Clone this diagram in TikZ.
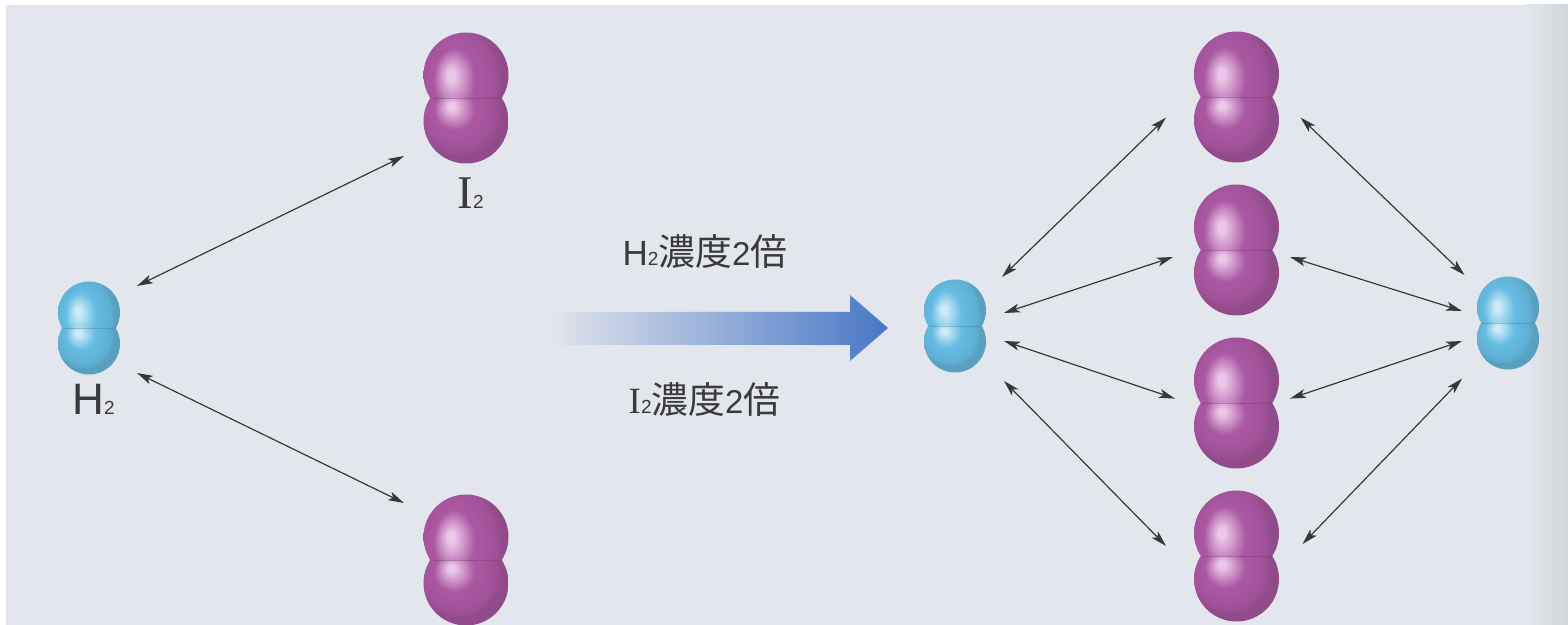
\documentclass[tikz,border=0pt]{standalone}
\usepackage{fontspec}
\setmainfont{Liberation Sans}
\newfontfamily\cjkfont{Noto Sans CJK JP}
\newfontfamily\serifI{Liberation Serif}
\usetikzlibrary{arrows.meta,calc}

\definecolor{bg}{HTML}{E3E6EC}
\definecolor{edgegray}{HTML}{D2D5D9}
\definecolor{txt}{HTML}{3A3A3A}
\definecolor{linkgray}{HTML}{383838}
\definecolor{hmid}{HTML}{66BCE2}
\definecolor{hhi}{HTML}{CDEBF8}
\definecolor{imid}{HTML}{AB58A3}
\definecolor{ihi}{HTML}{ECC8E8}
\definecolor{ablue}{HTML}{4877C6}

\pgfdeclareradialshading{hball}{\pgfpoint{-9bp}{9bp}}{color(0bp)=(hhi); color(2bp)=(hhi); color(12bp)=(hmid); color(22bp)=(hmid!93!black); color(25bp)=(hmid!85!black); color(50bp)=(hmid!85!black)}
\pgfdeclareradialshading{iball}{\pgfpoint{-9bp}{9bp}}{color(0bp)=(ihi); color(2bp)=(ihi); color(12bp)=(imid); color(22bp)=(imid!93!black); color(25bp)=(imid!85!black); color(50bp)=(imid!85!black)}

\newcommand{\subnum}[1]{{\fontsize{9.5}{9.5}\selectfont #1}}
\newcommand{\kanji}[1]{{\cjkfont\fontsize{18.4}{19}\selectfont #1}}

\tikzset{
  hmol/.style={inner sep=0, outer sep=0, minimum width=32pt, minimum height=47.5pt,
    path picture={
      \shade[shading=hball] ($(path picture bounding box.center)+(0,-15.5)$) circle[radius=31];
      \begin{scope}
        \clip (path picture bounding box.west) rectangle (path picture bounding box.south east);
        \shade[shading=hball] ($(path picture bounding box.center)+(0,15.5)$) circle[radius=31];
      \end{scope}
      \draw[hmid!70!black, line width=0.4pt, opacity=0.4] ($(path picture bounding box.center)+(-26,0)$) -- ++(52,0);
    }},
  imol/.style={inner sep=0, outer sep=0, minimum width=43.5pt, minimum height=66.5pt,
    path picture={
      \shade[shading=iball] ($(path picture bounding box.center)+(0,-23)$) circle[radius=42.5];
      \begin{scope}
        \clip (path picture bounding box.west) rectangle (path picture bounding box.south east);
        \shade[shading=iball] ($(path picture bounding box.center)+(0,23)$) circle[radius=42.5];
      \end{scope}
      \draw[imid!70!black, line width=0.4pt, opacity=0.4] ($(path picture bounding box.center)+(-35,0)$) -- ++(70,0);
    }},
  link/.style={{Stealth[length=8pt,width=4.5pt,inset=2pt]}-{Stealth[length=8pt,width=4.5pt,inset=2pt]},
    line width=0.6pt, draw=linkgray},
  lab/.style={inner sep=0, anchor=base, text=txt}
}

\begin{document}
\begin{tikzpicture}[x=0.5pt,y=-0.5pt]
\useasboundingbox (0,0) rectangle (1568,625);
\fill[white] (0,0) rectangle (1568,625);
\fill[bg] (6,5) rectangle (1568,625);
\shade[left color=bg, right color=edgegray] (1525,5) rectangle (1568,625);

\node[hmol] (h1) at (89,328) {};
\node[imol] (i1) at (466,98) {};
\node[imol] (i2) at (466,560) {};

\node[lab] (h1lab) at (93.5,415) {{\fontsize{22}{22}\selectfont H}\subnum{2}};
\node[lab] (i1lab) at (470.5,209) {{\serifI\fontsize{23.4}{24}\selectfont I}\subnum{2}};

\draw[link] ([shift={(48,-42)}]h1.center) -- ([shift={(-62,58)}]i1.center);
\draw[link] ([shift={(48,45)}]h1.center) -- ([shift={(-62,-57)}]i2.center);

\shade[left color=bg, middle color=ablue!60!bg, right color=ablue]
  (547,312) -- (850,312) -- (850,295) -- (888,328) -- (850,361) -- (850,345) -- (547,345) -- cycle;

\node[lab] (up) at (705,266) {{\fontsize{17.5}{17.5}\selectfont H}\subnum{2}\kanji{濃度}{\fontsize{16.5}{16.5}\selectfont 2}\kanji{倍}};
\node[lab] (down) at (704.5,414) {{\serifI\fontsize{18.5}{18.5}\selectfont I}\subnum{2}\kanji{濃度}{\fontsize{16.5}{16.5}\selectfont 2}\kanji{倍}};

\node[hmol] (h2) at (955,326) {};
\node[imol] (j1) at (1236.5,97) {};
\node[imol] (j2) at (1236.5,250) {};
\node[imol] (j3) at (1236.5,403) {};
\node[imol] (j4) at (1236.5,556) {};
\node[hmol] (h3) at (1508,323) {};

\draw[link] ([shift={(47,-49)}]h2.center) -- ([shift={(-70.5,20.6)}]j1.center);
\draw[link] ([shift={(49,-13)}]h2.center) -- ([shift={(-63.5,7)}]j2.center);
\draw[link] ([shift={(49,15)}]h2.center) -- ([shift={(-61.5,-4.4)}]j3.center);
\draw[link] ([shift={(49,55)}]h2.center) -- ([shift={(-70.5,-10)}]j4.center);

\draw[link] ([shift={(64,20.6)}]j1.center) -- ([shift={(-43.5,-48)}]h3.center);
\draw[link] ([shift={(53.5,7)}]j2.center) -- ([shift={(-46,-12)}]h3.center);
\draw[link] ([shift={(53.5,-4.4)}]j3.center) -- ([shift={(-46,18)}]h3.center);
\draw[link] ([shift={(66,-12)}]j4.center) -- ([shift={(-46,55.6)}]h3.center);
\end{tikzpicture}
\end{document}
